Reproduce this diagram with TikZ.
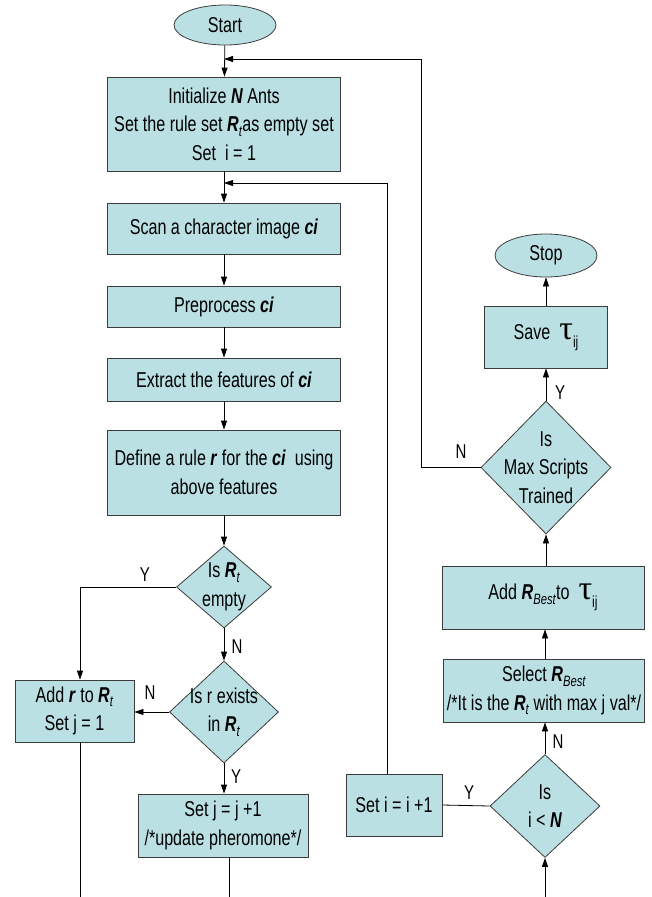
\documentclass[tikz,border=0pt]{standalone}
\usepackage{fontspec}
\setmainfont[FakeStretch=0.75]{Liberation Sans}
\newfontfamily\greekfont{Liberation Serif}
\usetikzlibrary{shapes.geometric,arrows.meta}
\definecolor{boxfill}{RGB}{187,224,227}
\definecolor{boxline}{RGB}{60,60,60}
\newcommand{\RR}[1]{\textbf{\textit{R}}\raisebox{-0.4ex}{\fontsize{15}{15}\selectfont\textit{#1}}}
\newcommand{\tauij}{{\greekfont\fontsize{34}{34}\selectfont τ}\raisebox{-0.7ex}{\fontsize{16}{16}\selectfont ij}}
\begin{document}
\begin{tikzpicture}[x=1pt,y=-1pt,
  box/.style={draw=boxline, fill=boxfill, line width=0.8pt, inner sep=0pt, align=center, font=\fontsize{21.5}{28.5}\selectfont},
  dec/.style={diamond, draw=boxline, fill=boxfill, line width=0.8pt, inner sep=0pt},
  term/.style={ellipse, draw=boxline, fill=boxfill, line width=0.8pt, inner sep=0pt, font=\fontsize{21.5}{28.5}\selectfont},
  txt/.style={align=center, inner sep=0pt, font=\fontsize{21.5}{28.5}\selectfont},
  arr/.style={-{Triangle[length=9pt,width=6pt]}, line width=0.8pt},
  ln/.style={line width=0.8pt},
  lbl/.style={inner sep=0pt, font=\fontsize{20}{20}\selectfont}]
\useasboundingbox (0,0) rectangle (651,897);
\fill[white] (0,0) rectangle (651,897);
% left column
\node[term, minimum width=102pt, minimum height=40pt] (start) at (225,25) {Start};
\node[box, minimum width=233pt, minimum height=94pt] (init) at (224,124) {Initialize \textbf{\textit{N}} Ants\\Set the rule set \RR{t}as empty set\\Set~ i = 1};
\node[box, minimum width=233pt, minimum height=51pt] (scan) at (224,228.5) {Scan a character image \textbf{\textit{ci}}};
\node[box, minimum width=233pt, minimum height=41pt] (prep) at (224,306.5) {Preprocess \textbf{\textit{ci}}};
\node[box, minimum width=233pt, minimum height=43pt] (extr) at (224,379.5) {Extract the features of \textbf{\textit{ci}}};
\node[box, minimum width=233pt, minimum height=85pt] (defn) at (224,472.5) {Define a rule \textbf{\textit{r}} for the \textbf{\textit{ci}}~ using\\above features};
\node[dec, minimum width=95pt, minimum height=82pt] (d1) at (224,587) {};
\node[txt] at (d1) {Is \RR{t}\\empty};
\node[dec, minimum width=109pt, minimum height=102pt] (d2) at (224,712) {};
\node[txt] at (d2) {Is r exists\\in \RR{t}};
\node[box, minimum width=119pt, minimum height=62pt] (addr) at (74.5,711) {Add \textbf{\textit{r}} to \RR{t}\\Set j = 1};
\node[box, minimum width=170pt, minimum height=63pt] (setj) at (223,825.5) {Set j = j +1\\/*update pheromone*/};
% right column
\node[box, minimum width=96pt, minimum height=62pt] (seti) at (394,805) {Set i = i +1};
\node[dec, minimum width=110pt, minimum height=103pt] (d3) at (545,806) {};
\node[txt] at (d3) {Is\\i < \textbf{\textit{N}}};
\node[box, minimum width=201pt, minimum height=63pt] (sel) at (544,690.5) {Select \RR{Best}\\/*It is the \RR{t} with max j val*/};
\node[box, minimum width=202pt, minimum height=63pt] (addb) at (543,597.5) {Add \RR{Best}to~ \tauij};
\node[dec, minimum width=130pt, minimum height=133pt] (d4) at (546,467.5) {};
\node[txt] at (d4) {Is\\Max Scripts\\Trained};
\node[box, minimum width=123pt, minimum height=62pt] (save) at (546,337) {Save~ \tauij};
\node[term, minimum width=102pt, minimum height=43pt] (stop) at (546,255.5) {Stop};
% coordinates
\coordinate (fb1) at (224,59);
\coordinate (c1) at (421,59);
\coordinate (fb2) at (224,183);
\coordinate (eA) at (80,897);
\coordinate (eB) at (229,897);
\coordinate (eC) at (545,897);
% connectors left
\draw[arr] (start) -- (init);
\draw[arr] (init) -- (scan);
\draw[arr] (scan) -- (prep);
\draw[arr] (prep) -- (extr);
\draw[arr] (extr) -- (defn);
\draw[arr] (defn) -- (d1);
\draw[arr] (d1.west) -| ([xshift=5.5pt]addr.north);
\draw[arr] (d1.south) -- (d2.north);
\draw[arr] (d2.west) -- (d2.west -| addr.east);
\draw[arr] (d2.south) -- (d2.south |- setj.north);
\draw[ln] ([xshift=5.5pt]addr.south) -- (eA);
\draw[ln] (setj.south -| eB) -- (eB);
% connectors right
\draw[arr] (eC) -- (d3.south);
\draw[ln] (d3.west) -- (seti.east);
\draw[arr] ([xshift=-7pt]seti.north) |- (fb2);
\draw[arr] (d3.north) -- (d3.north |- sel.south);
\draw[arr] (sel.north -| d3.north) -- (d3.north |- addb.south);
\draw[arr] (addb.north -| d4.south) -- (d4.south);
\draw[arr] (d4.north) -- (d4.north |- save.south);
\draw[arr] (save.north) -- (stop.south);
\draw[arr] (d4.west) -| (c1) -- (fb1);
% labels
\node[lbl] at (145,575) {Y};
\node[lbl] at (237,647) {N};
\node[lbl] at (150,693) {N};
\node[lbl] at (236,777) {Y};
\node[lbl] at (469,793) {Y};
\node[lbl] at (558,742) {N};
\node[lbl] at (461,452) {N};
\node[lbl] at (560,393) {Y};
\end{tikzpicture}
\end{document}
